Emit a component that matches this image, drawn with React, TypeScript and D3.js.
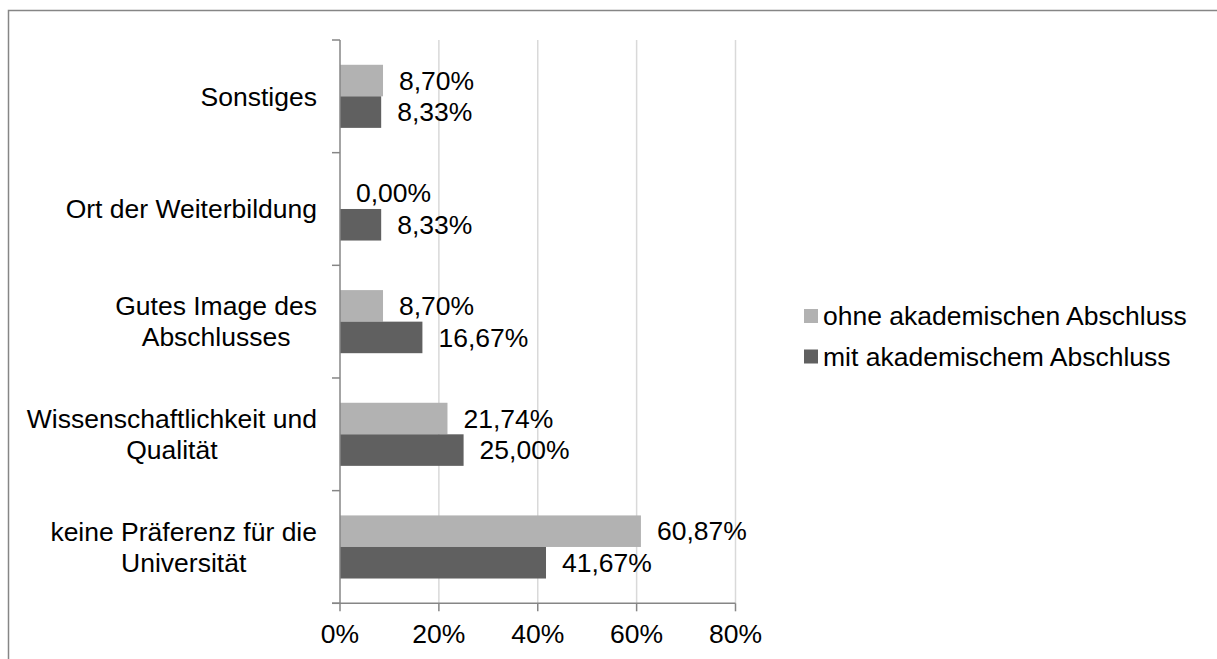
import React from "react";
import * as d3 from "d3";

const categories = [
  "Sonstiges",
  "Ort der Weiterbildung",
  "Gutes Image des Abschlusses",
  "Wissenschaftlichkeit und Qualität",
  "keine Präferenz für die Universität",
];
const seriesNames = ["ohne akademischen Abschluss", "mit akademischem Abschluss"];
const ohneValues = [8.7, 0.0, 8.7, 21.74, 60.87];
const mitValues = [8.33, 8.33, 16.67, 25.0, 41.67];
const xTicks = [0, 20, 40, 60, 80];
const colors = ["#b2b2b2", "#606060"];

const W = 1217;
const H = 659;
const FONT = "Liberation Sans, Arial, Helvetica, sans-serif";
const FS = 26.5;

let ctx: CanvasRenderingContext2D | null = null;
function measure(t: string): number {
  if (!ctx) {
    const c = document.createElement("canvas");
    ctx = c.getContext("2d");
  }
  if (!ctx) return t.length * FS * 0.5;
  ctx.font = `${FS}px "Liberation Sans", Arial, sans-serif`;
  return ctx.measureText(t).width;
}

function wrap(text: string, maxW: number): string[] {
  const words = text.split(" ");
  const lines: string[] = [];
  let cur = "";
  for (const w of words) {
    const test = cur ? cur + " " + w : w;
    if (measure(test) > maxW && cur) {
      lines.push(cur);
      cur = w;
    } else cur = test;
  }
  if (cur) lines.push(cur);
  return lines;
}

const fmt = (v: number) => v.toFixed(2).replace(".", ",") + "%";

export default function App() {
  const left = 340;
  const right = 735.5;
  const top = 40;
  const bottom = 603.3;

  const x = d3.scaleLinear().domain([0, 80]).range([left, right]);
  const y = d3.scaleBand<string>().domain(categories).range([top, bottom]).paddingInner(0).paddingOuter(0);
  const band = y.bandwidth();
  const barH = band * 0.28;
  const groupH = barH * 2;
  const series = [ohneValues, mitValues];

  const labelRight = 317;
  const lh = 31;

  return (
    <svg
      width={W}
      height={H}
      style={{ position: "absolute", left: 0, top: 0, background: "#fff" }}
      fontFamily={FONT}
    >
      <rect x={0} y={0} width={W} height={H} fill="#fff" />
      <rect x={8.5} y={10.5} width={1300} height={700} fill="none" stroke="#868686" strokeWidth={1.5} />

      {/* gridlines */}
      {xTicks.slice(1).map((t) => (
        <line key={"g" + t} x1={x(t)} x2={x(t)} y1={top} y2={bottom} stroke="#d9d9d9" strokeWidth={1.5} />
      ))}

      {/* bars */}
      {categories.map((c, i) => {
        const y0 = (y(c) as number) + (band - groupH) / 2;
        return (
          <g key={c}>
            {series.map((vals, s) => {
              const v = vals[i];
              const by = y0 + s * barH;
              return (
                <g key={s}>
                  {v > 0 && (
                    <rect x={x(0)} y={by} width={x(v) - x(0)} height={barH} fill={colors[s]} />
                  )}
                  <text
                    x={x(v) + 16}
                    y={by + barH / 2}
                    dy="0.35em"
                    fontSize={FS}
                    fill="#000"
                  >
                    {fmt(v)}
                  </text>
                </g>
              );
            })}
          </g>
        );
      })}

      {/* y axis */}
      <line x1={left} x2={left} y1={top} y2={bottom} stroke="#868686" strokeWidth={1.5} />
      {d3.range(categories.length + 1).map((k) => {
        const yy = top + k * band;
        return <line key={"yt" + k} x1={left - 8} x2={left} y1={yy} y2={yy} stroke="#868686" strokeWidth={1.5} />;
      })}

      {/* x axis */}
      <line x1={left - 8} x2={right} y1={bottom} y2={bottom} stroke="#868686" strokeWidth={1.5} />
      {xTicks.map((t) => (
        <g key={"xt" + t}>
          <line x1={x(t)} x2={x(t)} y1={bottom} y2={bottom + 8} stroke="#868686" strokeWidth={1.5} />
          <text x={x(t)} y={643} textAnchor="middle" fontSize={FS} fill="#000">
            {t + "%"}
          </text>
        </g>
      ))}

      {/* category labels */}
      {categories.map((c) => {
        const lines = wrap(c, 300);
        const maxW = Math.max(...lines.map(measure));
        const cx = labelRight - maxW / 2;
        const cy = (y(c) as number) + band / 2;
        const first = cy - ((lines.length - 1) * lh) / 2;
        return (
          <text key={"l" + c} x={cx} textAnchor="middle" fontSize={FS} fill="#000">
            {lines.map((ln, k) => (
              <tspan key={k} x={cx} y={first + k * lh} dy="0.35em">
                {ln}
              </tspan>
            ))}
          </text>
        );
      })}

      {/* legend */}
      {seriesNames.map((n, s) => {
        const ly = 316 + s * 40.5;
        return (
          <g key={n}>
            <rect x={804} y={ly - 7} width={14} height={14} fill={colors[s]} />
            <text x={823} y={ly} dy="0.35em" fontSize={FS} fill="#000">
              {n}
            </text>
          </g>
        );
      })}
    </svg>
  );
}
